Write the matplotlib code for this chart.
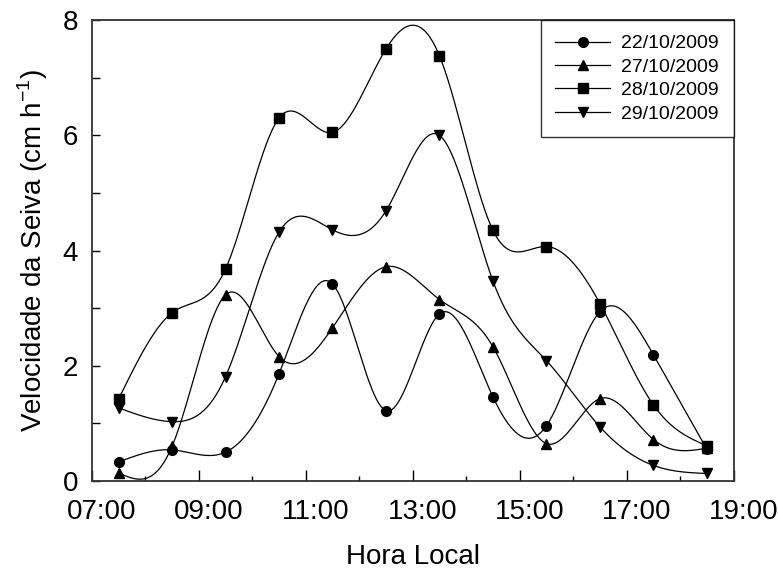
import matplotlib
matplotlib.use("Agg")
import matplotlib.pyplot as plt
import matplotlib.transforms as mtransforms
from matplotlib.ticker import FixedLocator, MultipleLocator, FuncFormatter
import numpy as np

plt.rcParams['font.family'] = ['Liberation Sans', 'DejaVu Sans']
plt.rcParams['mathtext.fontset'] = 'custom'
plt.rcParams['mathtext.rm'] = 'Liberation Sans'

# hora local (h) of each reading
hours = [7.5, 8.5, 9.5, 10.5, 11.5, 12.5, 13.5, 14.5, 15.5, 16.5, 17.5, 18.5]

# sap velocity (cm h-1)
v_22 = [0.33, 0.54, 0.50, 1.86, 3.42, 1.22, 2.90, 1.46, 0.96, 2.94, 2.19, 0.55]
v_27 = [0.14, 0.60, 3.23, 2.16, 2.66, 3.72, 3.15, 2.33, 0.65, 1.43, 0.72, 0.57]
v_28 = [1.42, 2.92, 3.68, 6.30, 6.05, 7.50, 7.38, 4.35, 4.07, 3.08, 1.32, 0.61]
v_29 = [1.27, 1.03, 1.81, 4.32, 4.36, 4.69, 6.00, 3.47, 2.09, 0.94, 0.27, 0.13]

labels = ["22/10/2009", "27/10/2009", "28/10/2009", "29/10/2009"]
markers = ["o", "^", "s", "v"]
x_ticks = [7, 9, 11, 13, 15, 17, 19]


def natural_spline(x, y, n=400):
    # natural cubic spline through the points, like SigmaPlot's spline curve
    x = np.asarray(x, float)
    y = np.asarray(y, float)
    k = len(x)
    h = np.diff(x)
    A = np.zeros((k, k))
    b = np.zeros(k)
    A[0, 0] = 1
    A[-1, -1] = 1
    for i in range(1, k - 1):
        A[i, i - 1] = h[i - 1]
        A[i, i] = 2 * (h[i - 1] + h[i])
        A[i, i + 1] = h[i]
        b[i] = 3 * ((y[i + 1] - y[i]) / h[i] - (y[i] - y[i - 1]) / h[i - 1])
    c = np.linalg.solve(A, b)
    xs = np.linspace(x[0], x[-1], n)
    idx = np.clip(np.searchsorted(x, xs) - 1, 0, k - 2)
    dx = xs - x[idx]
    bb = (y[idx + 1] - y[idx]) / h[idx] - h[idx] * (2 * c[idx] + c[idx + 1]) / 3
    dd = (c[idx + 1] - c[idx]) / (3 * h[idx])
    ys = y[idx] + bb * dx + c[idx] * dx ** 2 + dd * dx ** 3
    return xs, ys


fig = plt.figure(figsize=(7.78, 5.75), dpi=100)
ax = fig.add_axes([0.118, 0.1635, 0.825, 0.8015])

for vals, lab, mk in zip([v_22, v_27, v_28, v_29], labels, markers):
    xs, ys = natural_spline(hours, vals)
    ax.plot(xs, ys, color='black', lw=0.9, zorder=2)
    ax.plot(hours, vals, linestyle='none', marker=mk, color='black', ms=7, zorder=3)
    ax.plot([], [], color='black', lw=0.9, marker=mk, ms=7, label=lab)

ax.set_xlim(7, 19)
ax.set_ylim(0, 8)
ax.xaxis.set_major_locator(FixedLocator(x_ticks))
ax.xaxis.set_minor_locator(MultipleLocator(1))
ax.yaxis.set_major_locator(MultipleLocator(2))
ax.yaxis.set_minor_locator(MultipleLocator(1))
ax.xaxis.set_major_formatter(FuncFormatter(lambda v, p: "%02d:00" % int(round(v))))
ax.yaxis.set_major_formatter(FuncFormatter(lambda v, p: "%d" % int(round(v))))
ax.tick_params(axis='x', which='major', direction='in', length=8, width=1, labelsize=20, pad=13)
ax.tick_params(axis='x', which='minor', direction='in', length=3.3, width=1)
ax.tick_params(axis='y', which='major', direction='in', length=5.5, width=1, labelsize=20, pad=10)
ax.tick_params(axis='y', which='minor', direction='in', length=5.5, width=1)
ax.tick_params(top=False, right=False, which='both')
for s in ax.spines.values():
    s.set_linewidth(1.3)
    s.set_color('#333333')

# SigmaPlot drew the hour labels a little right of their ticks
shift = mtransforms.ScaledTranslation(0.1, 0, fig.dpi_scale_trans)
for lbl in ax.get_xticklabels():
    lbl.set_transform(lbl.get_transform() + shift)

ax.set_xlabel("Hora Local", fontsize=20, labelpad=14)
ax.set_ylabel("Velocidade da Seiva (cm h$^{\\mathregular{-1}}$)", fontsize=20, labelpad=9)

leg = ax.legend(loc='upper right', fontsize=14, frameon=True, fancybox=False,
                edgecolor='black', borderaxespad=0, handlelength=2.8,
                handletextpad=0.6, labelspacing=0.3, borderpad=0.75)
leg.get_frame().set_linewidth(1)

fig.savefig("out.png", dpi=100)
